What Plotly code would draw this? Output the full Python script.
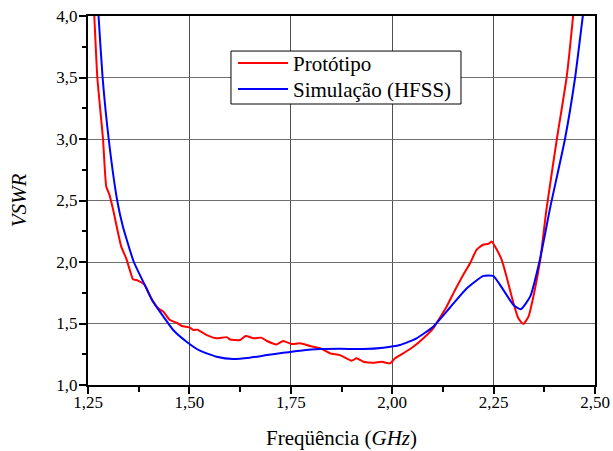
import plotly.graph_objects as go

# Protótipo (measured)
proto_x = [1.262, 1.2655, 1.273, 1.287, 1.295, 1.303, 1.312, 1.332, 1.344, 1.353, 1.361,
           1.373, 1.390, 1.406, 1.423, 1.436, 1.452, 1.469, 1.481, 1.500, 1.510, 1.520,
           1.543, 1.567, 1.592, 1.600, 1.625, 1.639, 1.658, 1.677, 1.690, 1.715, 1.731, 1.752,
           1.773, 1.797, 1.822, 1.847, 1.871, 1.900, 1.912, 1.929, 1.953, 1.974, 1.995, 2.007,
           2.027, 2.052, 2.077, 2.101, 2.114, 2.134, 2.155, 2.175, 2.192, 2.208, 2.224, 2.237,
           2.245, 2.258, 2.270, 2.282, 2.299, 2.311, 2.323, 2.336, 2.348, 2.365, 2.380, 2.406,
           2.430, 2.446, 2.450]
proto_y = [4.20, 4.00, 3.50, 3.00, 2.614, 2.546, 2.424, 2.125, 2.031, 1.936, 1.86,
           1.849, 1.813, 1.705, 1.624, 1.596, 1.528, 1.506, 1.48, 1.469, 1.447, 1.45,
           1.406, 1.38, 1.389, 1.37, 1.366, 1.398, 1.38, 1.385, 1.36, 1.33, 1.357, 1.333,
           1.339, 1.317, 1.30, 1.257, 1.243, 1.197, 1.217, 1.189, 1.18, 1.189, 1.176, 1.217,
           1.257, 1.311, 1.38, 1.46, 1.528, 1.637, 1.773, 1.895, 1.99, 2.099, 2.14, 2.147,
           2.166, 2.099, 2.017, 1.88, 1.665, 1.542, 1.496, 1.556, 1.718, 2.017, 2.42, 3.00,
           3.50, 4.00, 4.15]

# Simulação (HFSS)
sim_x = [1.273, 1.276, 1.286, 1.301, 1.322, 1.336, 1.363, 1.386, 1.408, 1.436,
         1.460, 1.493, 1.526, 1.567, 1.608, 1.649, 1.691, 1.731, 1.773, 1.822, 1.871, 1.929,
         1.978, 2.019, 2.060, 2.101, 2.143, 2.184, 2.225, 2.249, 2.274, 2.299, 2.317, 2.340,
         2.364, 2.390, 2.426, 2.451, 2.470, 2.474]
sim_y = [4.15, 4.00, 3.50, 3.00, 2.50, 2.288, 2.00, 1.84, 1.69, 1.556,
         1.447, 1.352, 1.279, 1.23, 1.211, 1.222, 1.243, 1.262, 1.279, 1.292, 1.295, 1.292,
         1.303, 1.325, 1.38, 1.474, 1.632, 1.787, 1.887, 1.887, 1.773, 1.651, 1.616, 1.718,
         2.017, 2.45, 3.00, 3.50, 4.00, 4.10]

x_ticks = [1.25, 1.50, 1.75, 2.00, 2.25, 2.50]
y_ticks = [1.0, 1.5, 2.0, 2.5, 3.0, 3.5, 4.0]

FONT = "Liberation Serif"

fig = go.Figure()
fig.add_trace(go.Scatter(x=proto_x, y=proto_y, mode="lines", name="Protótipo", legend="legend",
                         line=dict(color="#ff0000", width=2, shape="spline", smoothing=0.5)))
fig.add_trace(go.Scatter(x=sim_x, y=sim_y, mode="lines", name="Simulação (HFSS)", legend="legend2",
                         line=dict(color="#0000ff", width=2, shape="spline", smoothing=0.5)))

leg_common = dict(xanchor="left", yanchor="top", bgcolor="rgba(0,0,0,0)", borderwidth=0,
                  font=dict(family=FONT, size=21, color="black"), itemwidth=50)

fig.update_layout(
    width=613, height=451,
    margin=dict(l=88, r=18, t=16, b=66),
    paper_bgcolor="white", plot_bgcolor="white",
    separators=",.",
    font=dict(family=FONT, size=17, color="black"),
    showlegend=True,
    legend=dict(x=0.286, y=0.927, **leg_common),
    legend2=dict(x=0.286, y=0.857, **leg_common),
    shapes=[dict(type="rect", xref="paper", yref="paper", x0=0.282, x1=0.7357, y0=0.7615, y1=0.905,
                 line=dict(color="black", width=1), fillcolor="white", layer="above")],
)
fig.update_xaxes(
    range=[1.25, 2.50], tickvals=x_ticks, tickformat=".2f", automargin=False,
    showline=True, linecolor="black", linewidth=2, mirror=True,
    ticks="outside", ticklen=7, tickwidth=1.5, tickcolor="black",
    minor=dict(dtick=0.125, ticks="outside", ticklen=5, tickwidth=1.5, tickcolor="black", showgrid=False),
    showgrid=True, gridcolor="#505050", gridwidth=1, zeroline=False,
    tickfont=dict(family=FONT, size=17, color="black"),
    ticklabelstandoff=-6,
    title=dict(text="Freqüência (<i>GHz</i>)", font=dict(family=FONT, size=21, color="black"), standoff=19),
)
fig.update_yaxes(
    range=[1.0, 4.0], tickvals=y_ticks, tickformat=".1f", automargin=False,
    showline=True, linecolor="black", linewidth=2, mirror=True,
    ticks="outside", ticklen=7, tickwidth=1.5, tickcolor="black",
    minor=dict(dtick=0.25, ticks="outside", ticklen=4, tickwidth=1.5, tickcolor="black", showgrid=False),
    showgrid=True, gridcolor="#707070", gridwidth=1, zeroline=False,
    tickfont=dict(family=FONT, size=17, color="black"),
    ticklabelstandoff=-2,
    title=dict(text="<i>VSWR</i>", font=dict(family=FONT, size=21, color="black"), standoff=24),
)

fig.write_html("out.html", config={"displayModeBar": False},
               post_script="document.body.style.margin='0px';")
